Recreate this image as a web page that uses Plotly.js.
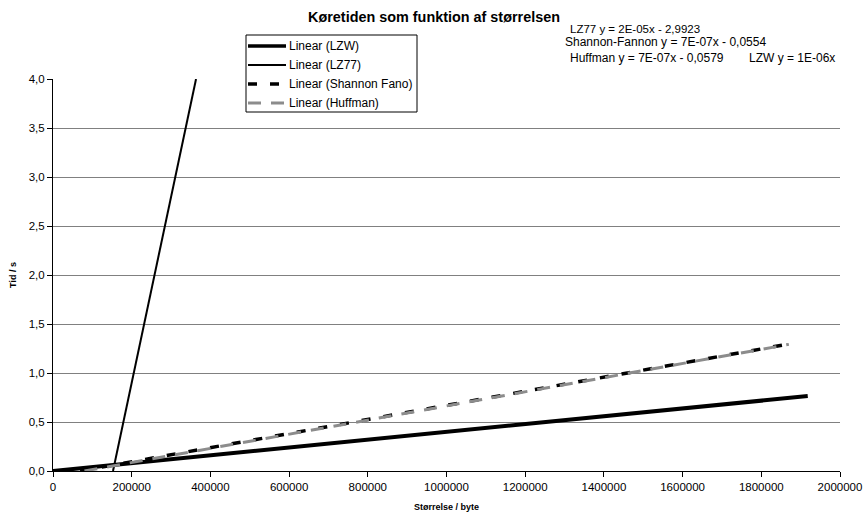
<!DOCTYPE html>
<html>
<head>
<meta charset="utf-8">
<script src="https://cdn.plot.ly/plotly-3.0.1.min.js"></script>
<style>
html,body{margin:0;padding:0;background:#fff;}
#chart{width:866px;height:516px;}
</style>
</head>
<body>
<div id="chart"></div>
<script>
// Series names
const seriesNames = ['Linear (LZW)', 'Linear (LZ77)', 'Linear (Shannon Fano)', 'Linear (Huffman)'];
// Trendline endpoints (x in bytes, y in seconds)
const lzwX = [0, 1918000];
const lzwY = [0, 0.765];
const lz77X = [152500, 363500];
const lz77Y = [0, 4.0];
const shannonX = [69000, 1862000];
const shannonY = [0, 1.290];
const huffmanX = [80000, 1870000];
const huffmanY = [0, 1.292];
// Equation labels
const equations = [
  'LZ77 y = 2E-05x - 2,9923',
  'Shannon-Fannon y = 7E-07x - 0,0554',
  'Huffman y = 7E-07x - 0,0579',
  'LZW y = 1E-06x'
];

const FONT = 'Liberation Sans, Arial, sans-serif';

const styles = [
  {color: '#000000', width: 4, dash: 'solid'},
  {color: '#000000', width: 2, dash: 'solid'},
  {color: '#000000', width: 3.5, dash: '9px,13px'},
  {color: '#8c8c8c', width: 3, dash: '13px,10px'}
];
const xs = [lzwX, lz77X, shannonX, huffmanX];
const ys = [lzwY, lz77Y, shannonY, huffmanY];

const traces = seriesNames.map((n, i) => ({
  x: xs[i], y: ys[i], name: n, mode: 'lines', line: styles[i], showlegend: false
}));

// plot-area pixel helpers for the legend box (paper coordinates)
const L = 53, R = 26, T = 79, B = 45, W = 866, H = 516;
const pw = W - L - R, ph = H - T - B;
const px = v => (v - L) / pw;
const py = v => (H - B - v) / ph;

const shapes = [
  {type: 'rect', xref: 'paper', yref: 'paper', x0: px(246), x1: px(417), y0: py(35), y1: py(112),
   line: {color: '#000', width: 1}, fillcolor: '#ffffff', layer: 'above'}
];
const legendRows = [46, 65, 84, 103];
const annotations = [];
seriesNames.forEach((n, i) => {
  const s = styles[i];
  shapes.push({type: 'line', xref: 'paper', yref: 'paper', x0: px(248), x1: px(286), y0: py(legendRows[i]), y1: py(legendRows[i]),
    line: {color: s.color, width: i === 0 ? 3.5 : (i === 1 ? 2 : s.width), dash: s.dash}, layer: 'above'});
  annotations.push({text: n, xref: 'paper', yref: 'paper', x: px(287), y: py(legendRows[i]), xanchor: 'left', yanchor: 'middle',
    showarrow: false, font: {family: FONT, size: 12, color: '#000'}});
});

const eqPos = [[568, 29], [563, 42], [568, 58], [747, 58]];
const eqSize = [11.5, 12, 12, 12];
equations.forEach((t, i) => {
  annotations.push({text: t, xref: 'paper', yref: 'paper', x: px(eqPos[i][0]), y: py(eqPos[i][1]), xanchor: 'left', yanchor: 'middle',
    showarrow: false, font: {family: FONT, size: eqSize[i], color: '#000'}});
});

const layout = {
  width: W, height: H,
  margin: {l: L, r: R, t: T, b: B},
  paper_bgcolor: '#ffffff', plot_bgcolor: '#ffffff',
  separators: ',.',
  font: {family: FONT, size: 11, color: '#000'},
  title: {text: '<b>Køretiden som funktion af størrelsen</b>', font: {family: FONT, size: 14.4, color: '#000'},
          x: 434 / W, xref: 'container', xanchor: 'center', y: 1 - 17 / H, yref: 'container', yanchor: 'middle'},
  showlegend: false,
  xaxis: {
    range: [0, 2000000], dtick: 200000, tick0: 0, tickformat: 'd',
    showgrid: false, zeroline: false, showline: true, linecolor: '#000', linewidth: 1,
    ticks: 'outside', ticklen: 5, tickcolor: '#000',
    tickfont: {family: FONT, size: 11.5, color: '#000'},
    title: {text: '<b>Størrelse / byte</b>', font: {family: FONT, size: 9, color: '#000'}, standoff: 11}
  },
  yaxis: {
    range: [0, 4], dtick: 0.5, tick0: 0, tickformat: '.1f',
    showgrid: true, gridcolor: '#808080', gridwidth: 1, zeroline: false,
    showline: true, linecolor: '#000', linewidth: 1,
    ticks: 'outside', ticklen: 5, tickcolor: '#000',
    tickfont: {family: FONT, size: 11.5, color: '#000'},
    title: {text: '<b>Tid / s</b>', font: {family: FONT, size: 9, color: '#000'}, standoff: 10}
  },
  shapes: shapes,
  annotations: annotations
};

Plotly.newPlot('chart', traces, layout, {displayModeBar: false, staticPlot: true});
</script>
</body>
</html>
